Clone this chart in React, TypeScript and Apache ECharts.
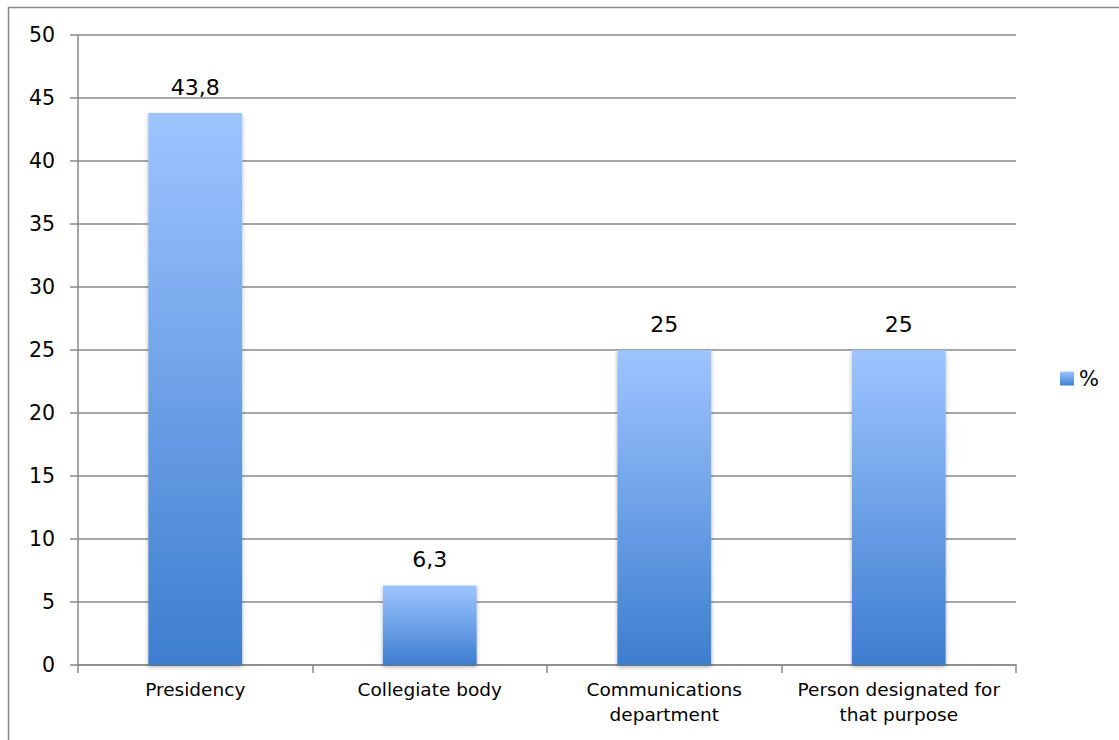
import React, { useEffect, useRef } from "react";
import * as echarts from "echarts";

const categories = ["Presidency", "Collegiate body", "Communications\ndepartment", "Person designated for\nthat purpose"];
const values = [43.8, 6.3, 25, 25];
const seriesName = "%";
const yMin = 0;
const yMax = 50;
const yInterval = 5;

const FONT = "DejaVu Sans, Liberation Sans, Arial, sans-serif";

export default function App() {
  const ref = useRef<HTMLDivElement>(null);
  useEffect(() => {
    if (!ref.current) return;
    const chart = echarts.init(ref.current, null, { renderer: "svg" });
    const grad = new echarts.graphic.LinearGradient(0, 0, 0, 1, [
      { offset: 0, color: "#9ec4ff" },
      { offset: 1, color: "#3d7ecf" },
    ]);
    chart.setOption({
      animation: false,
      textStyle: { fontFamily: FONT },
      graphic: [
        {
          type: "rect",
          shape: { x: 8.5, y: 7.5, width: 1200, height: 800 },
          style: { fill: "none", stroke: "#888", lineWidth: 1.5 },
          silent: true,
        },
      ],
      grid: { left: 78, right: 103, top: 35, bottom: 75 },
      legend: {
        orient: "vertical",
        left: 1055,
        top: 363,
        itemWidth: 14,
        itemHeight: 14,
        itemGap: 6,
        textStyle: { fontSize: 21, color: "#000", fontFamily: FONT },
        data: [{ name: seriesName, icon: "rect" }],
      },
      xAxis: {
        type: "category",
        data: categories,
        axisLine: { show: true, lineStyle: { color: "#888", width: 1.5 } },
        axisTick: { show: true, length: 8, alignWithLabel: false, lineStyle: { color: "#888", width: 1.5 } },
        axisLabel: { fontSize: 18.5, color: "#000", lineHeight: 25, margin: 12, interval: 0, fontFamily: FONT },
      },
      yAxis: {
        type: "value",
        min: yMin,
        max: yMax,
        interval: yInterval,
        axisLine: { show: true, lineStyle: { color: "#888", width: 1.5 } },
        axisTick: { show: true, length: 8, lineStyle: { color: "#888", width: 1.5 } },
        splitLine: { show: true, lineStyle: { color: "#888", width: 1.5 } },
        axisLabel: { fontSize: 20.5, color: "#000", margin: 23, fontFamily: FONT },
      },
      series: [
        {
          name: seriesName,
          type: "bar",
          data: values,
          barWidth: "40%",
          itemStyle: {
            color: grad,
            shadowBlur: 4,
            shadowColor: "rgba(0,0,0,0.3)",
            shadowOffsetY: 2,
          },
          label: {
            show: true,
            position: "top",
            distance: 15,
            fontSize: 22,
            color: "#000",
            fontFamily: FONT,
            formatter: (p: any) => String(p.value).replace(".", ","),
          },
        },
      ],
    });
    return () => chart.dispose();
  }, []);
  return (
    <div
      ref={ref}
      style={{ position: "fixed", left: 0, top: 0, width: 1119, height: 740, background: "#fff" }}
    />
  );
}
